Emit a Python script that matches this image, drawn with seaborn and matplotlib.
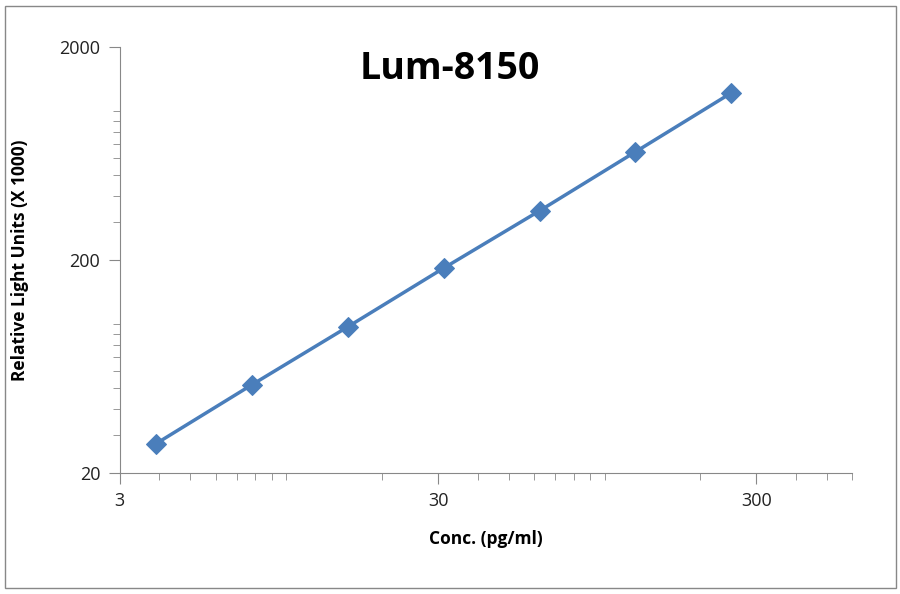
import matplotlib
matplotlib.use("Agg")
import matplotlib.pyplot as plt
import matplotlib.ticker as mticker
import seaborn as sns
import pandas as pd

conc = [3.9, 7.8, 15.6, 31.25, 62.5, 125, 250]
rlu = [27.4, 51.8, 96.9, 183, 340, 643, 1216]
df = pd.DataFrame({"conc": conc, "rlu": rlu})

sns.set_style("white")
plt.rcParams["font.family"] = ["Open Sans", "DejaVu Sans"]
plt.rcParams["text.color"] = "black"

fig = plt.figure(figsize=(9, 5.94), dpi=100)
ax = fig.add_axes([0.133, 0.204, 0.814, 0.717])
sns.lineplot(data=df, x="conc", y="rlu", ax=ax, color="#4a7ebb", linewidth=2.5,
             marker="D", markersize=10, markeredgecolor="#4a7ebb")
ax.set_xscale("log")
ax.set_yscale("log")
ax.set_xlim(3, 600)
ax.set_ylim(20, 2000)
ax.xaxis.set_major_locator(mticker.FixedLocator([3, 30, 300]))
ax.yaxis.set_major_locator(mticker.FixedLocator([20, 200, 2000]))
ax.xaxis.set_major_formatter(mticker.FixedFormatter(["3", "30", "300"]))
ax.yaxis.set_major_formatter(mticker.FixedFormatter(["20", "200", "2000"]))
ax.xaxis.set_minor_locator(mticker.LogLocator(base=10, subs=range(1, 10)))
ax.yaxis.set_minor_locator(mticker.LogLocator(base=10, subs=range(1, 10)))
ax.xaxis.set_minor_formatter(mticker.NullFormatter())
ax.yaxis.set_minor_formatter(mticker.NullFormatter())
ax.tick_params(which="major", length=8, color="#888888", labelsize=13, direction="out",
               bottom=True, left=True, labelcolor="#222222", pad=6)
ax.tick_params(which="minor", length=5, color="#888888", direction="out",
               bottom=True, left=True)
for s in ["top", "right"]:
    ax.spines[s].set_visible(False)
for s in ["left", "bottom"]:
    ax.spines[s].set_color("#888888")
ax.set_xlabel("Conc. (pg/ml)", fontsize=12.5, fontweight="bold", color="black", labelpad=14)
ax.set_ylabel("Relative Light Units (X 1000)", fontsize=12.5, fontweight="bold",
              color="black", labelpad=22)
ax.text(0.5, 0.915, "Lum-8150", transform=fig.transFigure, ha="center", va="top",
        fontsize=27, fontweight="bold", color="black")
fig.patches.append(plt.Rectangle((0.005, 0.01), 0.99, 0.98, transform=fig.transFigure,
                                 fill=False, edgecolor="#888888", linewidth=1))
fig.savefig("out.png", dpi=100)
